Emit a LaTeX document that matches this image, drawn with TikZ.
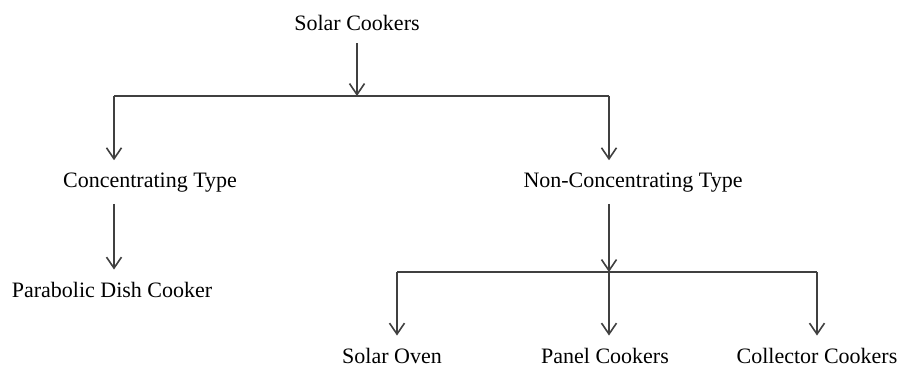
\documentclass[tikz,border=0pt]{standalone}
\usepackage{fontspec}
\setmainfont{Liberation Serif}
\usetikzlibrary{arrows.meta}

\begin{document}
\begin{tikzpicture}
        [x=1pt, y=-1pt,
        label/.style={anchor=base, inner xsep=0pt, inner ysep=12pt, font=\fontsize{22}{26}\selectfont},
        line/.style={line width=1.6pt, black!75},
        arrow/.style={line width=1.6pt, black!75, -{Straight Barb[length=11pt, width=15pt, line width=1.6pt]}}]

        \useasboundingbox (0,0) rectangle (904,366);

        \node[label] (sc) at (357,31) {Solar Cookers};
        \node[label] (ct) at (150,187) {Concentrating Type};
        \node[label] (nct) at (633,187) {Non-Concentrating Type};
        \node[label] (pdc) at (112,297) {Parabolic Dish Cooker};
        \node[label] (so) at (392,363) {Solar Oven};
        \node[label] (pc) at (605,363) {Panel Cookers};
        \node[label] (cc) at (817,363) {Collector Cookers};

        % junctions on the horizontal bars
        \coordinate (top) at (357,96);
        \coordinate (topl) at (114,96);
        \coordinate (topr) at (609,96);
        \coordinate (bot) at (609,272);
        \coordinate (botl) at (397,272);
        \coordinate (botr) at (817,272);

        % upper level
        \draw[arrow] (sc.south) -- (top);
        \draw[line] (topl) -- (topr);
        \draw[arrow] (topl) -- (topl |- ct.north);
        \draw[arrow] (topr) -- (topr |- nct.north);

        % concentrating branch
        \draw[arrow] (ct.south -| topl) -- (topl |- pdc.north);

        % non-concentrating branch
        \draw[arrow] (nct.south -| bot) -- (bot);
        \draw[line] (botl) -- (botr);
        \draw[arrow] (botl) -- (botl |- so.north);
        \draw[arrow] (bot) -- (bot |- pc.north);
        \draw[arrow] (botr) -- (botr |- cc.north);

    \end{tikzpicture}
\end{document}
